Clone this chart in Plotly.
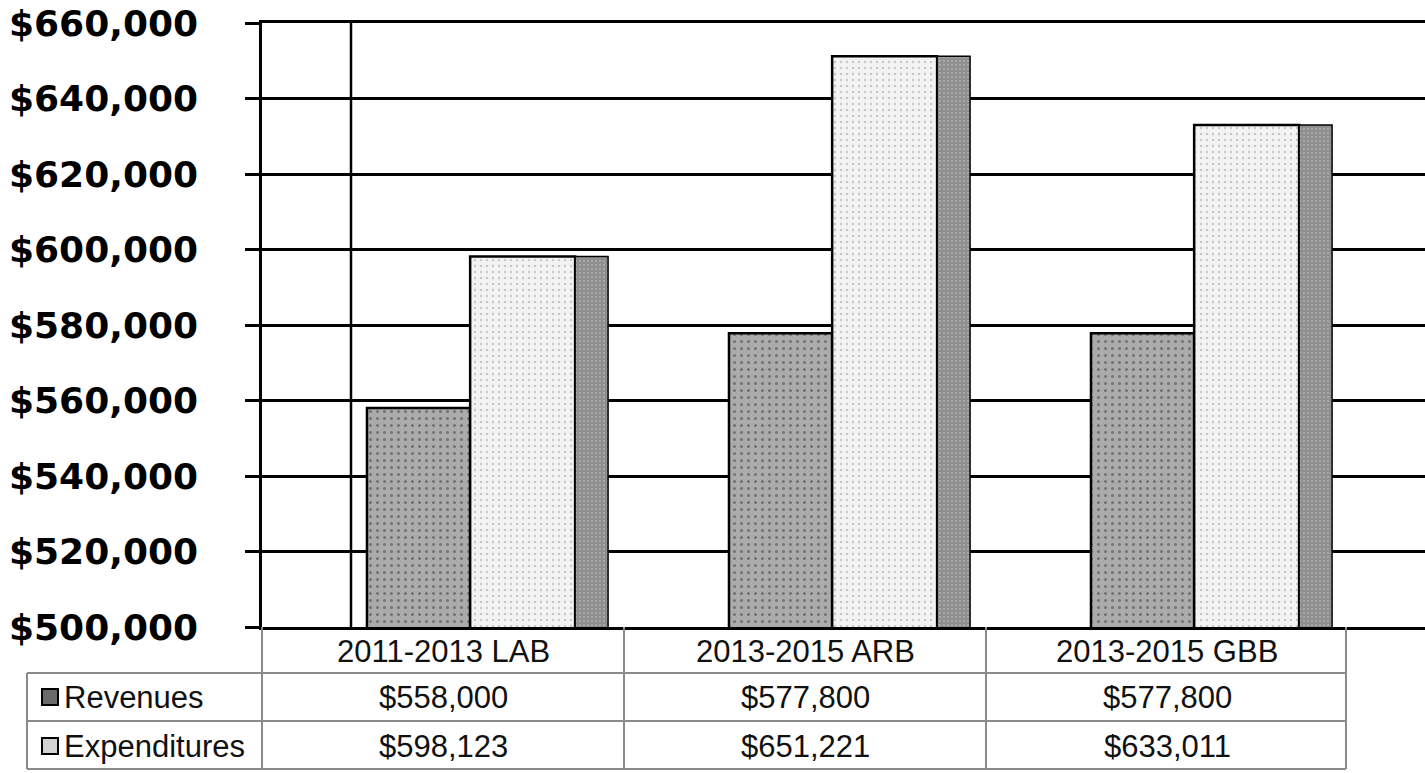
import plotly.graph_objects as go

# ---------------- data ----------------
categories = ["2011-2013 LAB", "2013-2015 ARB", "2013-2015 GBB"]
revenues = [558000, 577800, 577800]
expenditures = [598123, 651221, 633011]
series_names = ["Revenues", "Expenditures"]
y_ticks = [500000, 520000, 540000, 560000, 580000, 600000, 620000, 640000, 660000]

# ---------------- geometry helpers ----------------
W, H = 1425, 773
L, R, T, B = 262, 0, 23, 146
PW, PH = W - L - R, H - T - B
CAT_PX = 362.0  # pixel width of one category


def px_x(px):
    return (px - L) / PW


def px_y(py):
    return (H - B - py) / PH


idx = list(range(len(categories)))
x_range = [-0.5, -0.5 + PW / CAT_PX]

fig = go.Figure()

# revenues bar (front face)
fig.add_trace(go.Bar(
    x=idx, y=revenues, name=series_names[0],
    offset=-0.21, width=0.285,
    marker=dict(color="#ababab", line=dict(color="black", width=2.5),
                pattern=dict(shape=".", fgcolor="#3a3a3a", size=7, solidity=0.15)),
    showlegend=False, hoverinfo="y",
))
# expenditures bar (front face)
fig.add_trace(go.Bar(
    x=idx, y=expenditures, name=series_names[1],
    offset=0.075, width=0.29,
    marker=dict(color="#f3f3f3", line=dict(color="black", width=2.5),
                pattern=dict(shape=".", fgcolor="#9a9a9a", size=6, solidity=0.12)),
    showlegend=False, hoverinfo="y",
))
# expenditures bar (3-D side face)
fig.add_trace(go.Bar(
    x=idx, y=expenditures, name=series_names[1] + " side",
    offset=0.365, width=0.091,
    marker=dict(color="#8f8f8f", line=dict(color="black", width=1.5),
                pattern=dict(shape=".", fgcolor="#cfcfcf", size=4, solidity=0.2)),
    showlegend=False, hoverinfo="skip",
))

shapes = []
# back-wall vertical line
shapes.append(dict(type="line", xref="paper", yref="paper",
                   x0=px_x(351), x1=px_x(351), y0=0, y1=1,
                   line=dict(color="black", width=2.5), layer="below"))

grid_col = "#8a8a8a"
row_lines_y = [673, 721, 769]
table_right = L + CAT_PX * len(categories) - 2
for yy in row_lines_y:
    shapes.append(dict(type="line", xref="paper", yref="paper",
                       x0=px_x(27), x1=px_x(table_right), y0=px_y(yy), y1=px_y(yy),
                       line=dict(color=grid_col, width=2)))
for k in range(len(categories) + 1):
    xx = L + CAT_PX * k - (2 if k == len(categories) else 0)
    shapes.append(dict(type="line", xref="paper", yref="paper",
                       x0=px_x(xx), x1=px_x(xx), y0=px_y(627), y1=px_y(769),
                       line=dict(color=grid_col, width=2)))
shapes.append(dict(type="line", xref="paper", yref="paper",
                   x0=px_x(27), x1=px_x(27), y0=px_y(673), y1=px_y(769),
                   line=dict(color=grid_col, width=2)))

row_text_y = [697, 746]
key_fill = ["#6a6a6a", "#d2d2d2"]
for r in range(len(series_names)):
    cy = row_text_y[r]
    shapes.append(dict(type="rect", xref="paper", yref="paper",
                       x0=px_x(42), x1=px_x(58), y0=px_y(cy + 8), y1=px_y(cy - 8),
                       fillcolor=key_fill[r], line=dict(color="black", width=2)))

annotations = []
tfont = dict(family="Liberation Sans, Arial, sans-serif", size=31, color="#111111")
for i, c in enumerate(categories):
    annotations.append(dict(xref="x", yref="paper", x=i, y=px_y(651), text=c,
                            showarrow=False, xanchor="center", yanchor="middle", font=tfont))
series_vals = [revenues, expenditures]
for r, name in enumerate(series_names):
    annotations.append(dict(xref="paper", yref="paper", x=px_x(62), y=px_y(row_text_y[r]),
                            text=name, showarrow=False, xanchor="left", yanchor="middle",
                            font=tfont))
    for i, v in enumerate(series_vals[r]):
        annotations.append(dict(xref="x", yref="paper", x=i, y=px_y(row_text_y[r]),
                                text="${:,}".format(v), showarrow=False,
                                xanchor="center", yanchor="middle", font=tfont))

fig.update_layout(
    width=W, height=H,
    margin=dict(l=L, r=R, t=T, b=B, pad=0),
    paper_bgcolor="white", plot_bgcolor="white",
    barmode="overlay",
    showlegend=False,
    xaxis=dict(range=x_range, showticklabels=False, showgrid=False, zeroline=False,
               showline=True, mirror=True, linecolor="black", linewidth=2.5, ticks="",
               fixedrange=True),
    yaxis=dict(range=[y_ticks[0], y_ticks[-1]], tickvals=y_ticks, tickformat="$,.0f",
               showgrid=True, gridcolor="black", gridwidth=2.5,
               zeroline=False, showline=True, linecolor="black", linewidth=2.5,
               ticks="outside", ticklen=14, tickwidth=2.5, tickcolor="black",
               ticklabelstandoff=40,
               tickfont=dict(family="DejaVu Sans", size=36, color="black", weight="bold"),
               fixedrange=True),
    shapes=shapes,
    annotations=annotations,
)

fig.write_html("out.html", config={"displayModeBar": False},
               post_script="document.body.style.margin='0';document.body.style.overflow='hidden';")
